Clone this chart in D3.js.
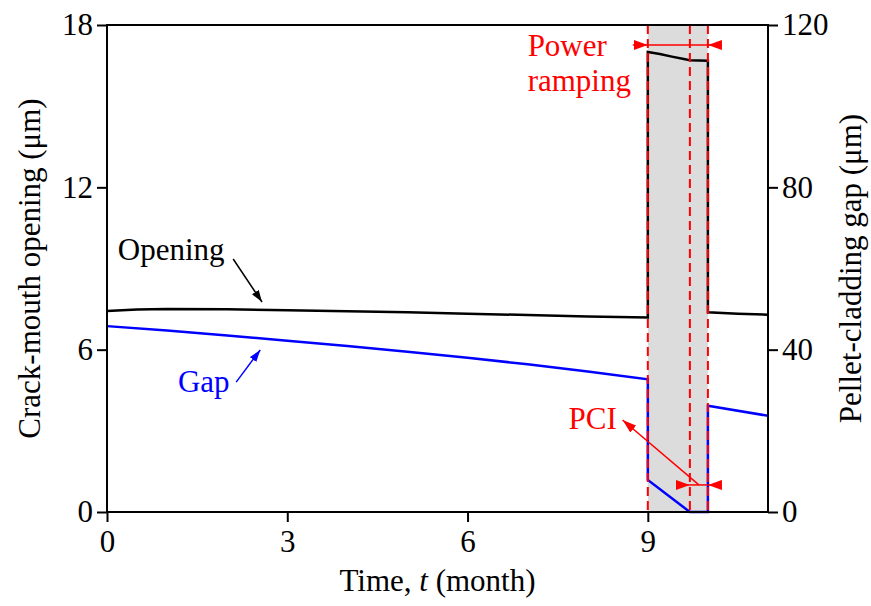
<!DOCTYPE html>
<html>
<head>
<meta charset="utf-8">
<script src="https://cdn.jsdelivr.net/npm/d3@7"></script>
<style>
  html, body { margin: 0; padding: 0; background: #fff; }
  svg { display: block; font-family: "Liberation Serif", "Times New Roman", serif; }
</style>
</head>
<body>
<svg id="chart" width="871" height="606"></svg>
<script>
// Crack-mouth opening (left axis, μm) over time (month)
const openingTime  = [0, 0.5, 1, 2, 3, 4, 5, 6, 7, 8, 9, 9, 9.2, 9.4, 9.6, 9.7, 9.85, 10, 10, 10.5, 11];
const openingValue = [7.43, 7.48, 7.50, 7.49, 7.46, 7.42, 7.38, 7.33, 7.28, 7.23, 7.19, 17.0, 16.93, 16.83, 16.74, 16.70, 16.69, 16.68, 7.38, 7.33, 7.29];

// Pellet-cladding gap (right axis, μm)
const gapTime  = [0, 1, 2, 3, 4, 5, 6, 7, 8, 9, 9, 9.7, 10, 10, 11];
const gapValue = [45.8, 44.7, 43.5, 42.2, 40.9, 39.5, 38.0, 36.4, 34.6, 32.7, 7.9, 0, 0, 26.2, 23.7];

// Power ramping window and PCI onset (month)
const rampStart = 9, rampEnd = 10, pciStart = 9.7;

// Axis ticks
const xTicks = [0, 3, 6, 9];
const yLeftTicks = [0, 6, 12, 18];
const yRightTicks = [0, 40, 80, 120];

const svg = d3.select("#chart");
const W = 871, H = 606;
const m = { left: 107, right: 103, top: 25, bottom: 94 };
const pw = W - m.left - m.right, ph = H - m.top - m.bottom;

const x = d3.scaleLinear().domain([0, 11]).range([m.left, m.left + pw]);
const yL = d3.scaleLinear().domain([0, 18]).range([m.top + ph, m.top]);
const yR = d3.scaleLinear().domain([0, 120]).range([m.top + ph, m.top]);

const FS = 31;
const RED = "#ff0000", BLUE = "#0000ff";

// arrow markers
const defs = svg.append("defs");
function marker(id, color, w, h) {
  defs.append("marker").attr("id", id)
    .attr("viewBox", `0 0 ${w} ${h}`).attr("refX", w).attr("refY", h / 2)
    .attr("markerWidth", w).attr("markerHeight", h).attr("markerUnits", "userSpaceOnUse")
    .attr("orient", "auto-start-reverse")
    .append("path").attr("d", `M0,0L${w},${h / 2}L0,${h}Z`).attr("fill", color);
}
marker("arrK", "#000", 12, 8);
marker("arrB", BLUE, 12, 8);
marker("arrR", RED, 14, 9);
marker("arrRH", RED, 14, 10);

// power ramping window shading
svg.append("rect")
  .attr("x", x(rampStart)).attr("y", m.top)
  .attr("width", x(rampEnd) - x(rampStart)).attr("height", ph)
  .attr("fill", "#dcdcdc");

// series
const lineL = d3.line().x(d => x(d[0])).y(d => yL(d[1]));
const lineR = d3.line().x(d => x(d[0])).y(d => yR(d[1]));

svg.append("path")
  .attr("d", lineR(gapTime.map((t, i) => [t, gapValue[i]])))
  .attr("fill", "none").attr("stroke", BLUE).attr("stroke-width", 2.5).attr("stroke-linejoin", "miter");

svg.append("path")
  .attr("d", lineL(openingTime.map((t, i) => [t, openingValue[i]])))
  .attr("fill", "none").attr("stroke", "#000").attr("stroke-width", 2.5).attr("stroke-linejoin", "miter");

// dashed markers for ramp boundaries and PCI onset
[rampStart, pciStart, rampEnd].forEach(t => {
  svg.append("line")
    .attr("x1", x(t)).attr("x2", x(t)).attr("y1", m.top).attr("y2", m.top + ph)
    .attr("stroke", RED).attr("stroke-width", 2).attr("stroke-dasharray", "9,5");
});

// frame
svg.append("rect")
  .attr("x", m.left).attr("y", m.top).attr("width", pw).attr("height", ph)
  .attr("fill", "none").attr("stroke", "#000").attr("stroke-width", 2);

// axes
function styleAxis(g) {
  g.selectAll(".domain").remove();
  g.selectAll(".tick line").attr("stroke", "#000").attr("stroke-width", 2);
  g.selectAll(".tick text").attr("font-family", "Liberation Serif, serif")
    .attr("font-size", FS).attr("fill", "#000");
}
svg.append("g").attr("transform", `translate(0,${m.top + ph})`)
  .call(d3.axisBottom(x).tickValues(xTicks).tickSize(10).tickPadding(8).tickFormat(d3.format("d")))
  .call(styleAxis);
svg.append("g").attr("transform", `translate(${m.left},0)`)
  .call(d3.axisLeft(yL).tickValues(yLeftTicks).tickSize(10).tickPadding(4).tickFormat(d3.format("d")))
  .call(styleAxis);
svg.append("g").attr("transform", `translate(${m.left + pw},0)`)
  .call(d3.axisRight(yR).tickValues(yRightTicks).tickSize(10).tickPadding(4).tickFormat(d3.format("d")))
  .call(styleAxis);

// axis titles
svg.append("text").attr("x", x(5.5)).attr("y", 591)
  .attr("text-anchor", "middle").attr("font-size", FS)
  .html('Time, <tspan font-style="italic">t</tspan> (month)');
svg.append("text")
  .attr("transform", `translate(40,${m.top + ph / 2}) rotate(-90)`)
  .attr("text-anchor", "middle").attr("font-size", FS)
  .text("Crack-mouth opening (μm)");
svg.append("text")
  .attr("transform", `translate(861,${m.top + ph / 2}) rotate(-90)`)
  .attr("text-anchor", "middle").attr("font-size", FS)
  .text("Pellet-cladding gap (μm)");

// series labels
svg.append("text").attr("x", x(0.18)).attr("y", yL(9.31)).attr("font-size", FS).text("Opening");
svg.append("line")
  .attr("x1", x(2.1)).attr("y1", yL(9.35)).attr("x2", x(2.58)).attr("y2", yL(7.76))
  .attr("stroke", "#000").attr("stroke-width", 1.5).attr("marker-end", "url(#arrK)");

svg.append("text").attr("x", x(1.18)).attr("y", yL(4.45)).attr("font-size", FS).attr("fill", BLUE).text("Gap");
svg.append("line")
  .attr("x1", x(2.15)).attr("y1", yL(4.80)).attr("x2", x(2.55)).attr("y2", yL(5.99))
  .attr("stroke", BLUE).attr("stroke-width", 1.5).attr("marker-end", "url(#arrB)");

// power ramping annotation
svg.append("text").attr("x", x(7.0)).attr("y", yL(16.86)).attr("font-size", FS).attr("fill", RED).text("Power");
svg.append("text").attr("x", x(7.0)).attr("y", yL(15.56)).attr("font-size", FS).attr("fill", RED).text("ramping");
svg.append("line")
  .attr("x1", x(rampStart - 0.25)).attr("x2", x(rampStart)).attr("y1", yL(17.26)).attr("y2", yL(17.26))
  .attr("stroke", RED).attr("stroke-width", 1.5).attr("marker-end", "url(#arrRH)");
svg.append("line")
  .attr("x1", x(rampEnd + 0.23)).attr("x2", x(rampEnd)).attr("y1", yL(17.26)).attr("y2", yL(17.26))
  .attr("stroke", RED).attr("stroke-width", 1.5).attr("marker-end", "url(#arrRH)");
svg.append("line")
  .attr("x1", x(rampStart)).attr("x2", x(rampEnd)).attr("y1", yL(17.26)).attr("y2", yL(17.26))
  .attr("stroke", RED).attr("stroke-width", 1.5);

// PCI annotation
svg.append("text").attr("x", x(7.68)).attr("y", yL(3.05)).attr("font-size", FS).attr("fill", RED).text("PCI");
svg.append("line")
  .attr("x1", x(pciStart - 0.22)).attr("x2", x(pciStart)).attr("y1", yL(1.0)).attr("y2", yL(1.0))
  .attr("stroke", RED).attr("stroke-width", 1.5).attr("marker-end", "url(#arrRH)");
svg.append("line")
  .attr("x1", x(rampEnd + 0.2)).attr("x2", x(rampEnd)).attr("y1", yL(1.0)).attr("y2", yL(1.0))
  .attr("stroke", RED).attr("stroke-width", 1.5).attr("marker-end", "url(#arrRH)");
svg.append("line")
  .attr("x1", x(pciStart)).attr("x2", x(rampEnd)).attr("y1", yL(1.0)).attr("y2", yL(1.0))
  .attr("stroke", RED).attr("stroke-width", 1.5);
svg.append("line")
  .attr("x1", x(9.85)).attr("y1", yL(1.0)).attr("x2", x(8.58)).attr("y2", yL(3.40))
  .attr("stroke", RED).attr("stroke-width", 1.5).attr("marker-end", "url(#arrR)");
</script>
</body>
</html>
